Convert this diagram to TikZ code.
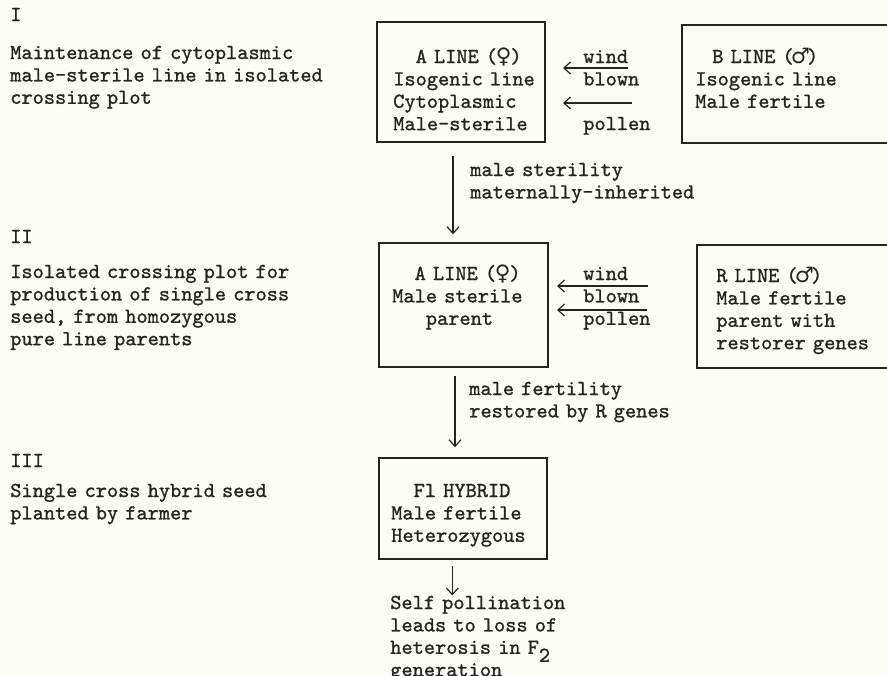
\documentclass[tikz,border=0pt]{standalone}
\usepackage{fontspec}
\newfontfamily\symfont{DejaVu Sans}
\newfontfamily\typew[FakeBold=1.1]{lmmono10-regular.otf}
\usepackage{tikz}
\usetikzlibrary{arrows.meta}
\usetikzlibrary{fit}

\definecolor{paper}{RGB}{253,253,248}
\definecolor{ink}{RGB}{38,36,32}

\newcommand{\fem}{\makebox[10pt]{\symfont\char"2640}}
\newcommand{\mal}{\makebox[10pt]{\symfont\char"2642}}

\tikzset{
	txt/.style={font=\typew\fontsize{16}{16.8}\selectfont, text=ink, text width=240pt, align=left, inner sep=0pt, anchor=base west},
	plotbox/.style={draw=ink, line width=1.1pt, inner sep=0pt},
	flow/.style={draw=ink, line width=0.9pt, -{Straight Barb[length=5pt,width=9pt]}},
}

\begin{document}
\begin{tikzpicture}[x=0.75pt, y=-0.75pt]
	\clip (0,0) rectangle (887,675);
	\fill [paper] (0,0) rectangle (887,675);

	\node [txt] (stagei) at (10,21) {I};
	\node [txt] (stageitxt) at (10,59) {Maintenance of cytoplasmic\\male-sterile line in isolated\\crossing plot};
	\node [txt] (stageii) at (10,243) {II};
	\node [txt] (stageiitxt) at (10,278) {Isolated crossing plot for\\production of single cross\\seed, from homozygous\\pure line parents};
	\node [txt] (stageiii) at (10,467) {III};
	\node [txt] (stageiiitxt) at (10,497) {Single cross hybrid seed\\planted by farmer};

	\node [plotbox, fit={(377,22) (545,142)}] (aline) {};
	\node [txt] (alinetxt) at (393,63) {\phantom{AA}A LINE~(\fem)\\Isogenic line\\Cytoplasmic\\Male-sterile};
	\node [plotbox, fit={(682,25) (900,143)}] (bline) {};
	\node [txt] (blinetxt) at (695,63) {\hspace*{12.75pt}B LINE~(\mal)\\Isogenic line\\Male fertile};

	\node [txt] (windi) at (583,63) {wind\\blown};
	\node [txt] (polleni) at (583,130) {pollen};
	\coordinate (wia) at (628,68);
	\coordinate (wib) at (563,68);
	\coordinate (pia) at (632,103);
	\coordinate (pib) at (563,103);
	\draw [flow] (wia) -- (wib);
	\draw [flow] (pia) -- (pib);

	\node [plotbox, fit={(379,243) (548,367)}] (asterile) {};
	\node [txt] (asteriletxt) at (392,280) {\phantom{AA}A LINE~(\fem)\\Male sterile\\\phantom{AAA}parent};
	\node [plotbox, fit={(697,245) (900,368)}] (rline) {};
	\node [txt] (rlinetxt) at (716,282) {R LINE~(\mal)\\Male fertile\\parent with\\restorer genes};

	\node [txt] (windii) at (583,280) {wind\\blown\\pollen};
	\coordinate (wiia) at (648,286);
	\coordinate (wiib) at (557,286);
	\coordinate (piia) at (647,310);
	\coordinate (piib) at (557,310);
	\draw [flow] (wiia) -- (wiib);
	\draw [flow] (piia) -- (piib);

	\node [plotbox, fit={(379,458) (547,559)}] (hybrid) {};
	\node [txt] (hybridtxt) at (391,497) {\phantom{AA}Fl HYBRID\\Male fertile\\Heterozygous};

	\node [txt, text width=160pt] (selfpol) at (390,609) {Self pollination\\leads to loss of\\heterosis in F\raisebox{-6pt}{2}\\generation};

	\node [txt] (sterlab) at (470,176) {male sterility\\maternally-inherited};
	\node [txt] (fertlab) at (469,395) {male fertility\\restored by R genes};

	\draw [flow, shorten <=9.75pt, shorten >=6pt] ([xshift=-6pt]aline.south) -- ([xshift=-6pt]aline.south |- asterile.north);
	\draw [flow, shorten <=6pt, shorten >=7.5pt] ([xshift=-6.4pt]asterile.south) -- ([xshift=-6.4pt]asterile.south |- hybrid.north);
	\draw [flow, shorten <=5pt] ([xshift=-8pt]hybrid.south) -- ([xshift=-8pt]hybrid.south |- selfpol.north);
\end{tikzpicture}
\end{document}
